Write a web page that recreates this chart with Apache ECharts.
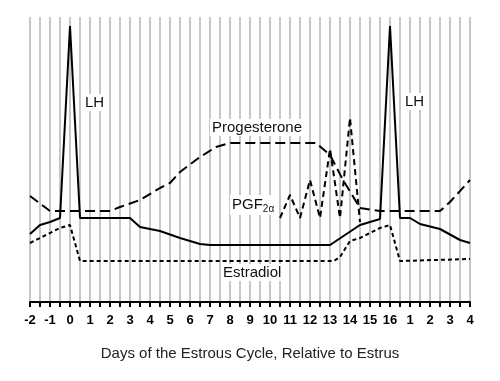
<!DOCTYPE html>
<html><head><meta charset="utf-8">
<script src="https://cdn.jsdelivr.net/npm/echarts@6/dist/echarts.min.js"></script>
<style>html,body{margin:0;padding:0;background:#fff}#c{width:500px;height:381px}</style>
</head><body><div id="c"></div>
<script>
// Day positions (day 17..20 on the axis are shown as 1..4 of the next cycle)
const lhDays = [-2,-1.5,-1,-0.5,0,0.5,3,3.5,4,4.5,5.5,6.5,7,13,14.5,15.5,16,16.5,17,17.5,18.5,19.5,20];
const lhVals = [68,77,80,84,276,84,84,75,73,71,64,58,57,57,77,83,276,84,84,78,73,62,59];
const progDays = [-2,-1,2,2.5,3.5,4.5,5,5.5,6.5,7.3,8,12.3,13,13.65,14.5,15.5,18.5,19,20];
const progVals = [106,91,91,95,102,114,119,130,145,155,159,159,147,122,94,91,91,100,122];
const e2Days = [-2,-0.5,0,0.5,13.2,13.5,14,14.5,15.5,16,16.5,20];
const e2Vals = [59,74,77,41,41,45,61,64,74,77,41,43];
const pgfDays = [10.5,11,11.5,12,12.5,13,13.5,14,14.5];
const pgfVals = [84,107,84,122,84,153,84,184,80];
const xTitle = 'Days of the Estrous Cycle, Relative to Estrus';
const cycleLength = 16;

const pairs = (xs, ys) => xs.map((x, i) => [x, ys[i]]);
const chart = echarts.init(document.getElementById('c'));
const F = '"Liberation Sans", Arial, sans-serif';
const base = {type:'line', showSymbol:false, symbol:'none', silent:true, animation:false, z:5};
const lbl = (text, left, top) => ({type:'text', left, top, z:3,
  style:{text, fontSize:15, fontFamily:F, fill:'#111', backgroundColor:'#fff', padding:[1,2]}});
chart.setOption({
  animation:false,
  grid:{left:30,right:30,top:17,bottom:79},
  xAxis:{
    type:'value', min:-2, max:20, interval:0.5,
    axisLine:{show:true,onZero:false,lineStyle:{color:'#000',width:2}},
    axisTick:{show:true,length:5,lineStyle:{color:'#000',width:2}},
    splitLine:{show:true,lineStyle:{color:'#c8c8c8',width:2}},
    axisLabel:{
      margin:12, color:'#000', fontWeight:'bold', fontSize:13, fontFamily:F,
      formatter:v => Number.isInteger(v) ? String(v <= cycleLength ? v : v - cycleLength) : ''
    },
    name:xTitle, nameLocation:'middle', nameGap:44,
    nameTextStyle:{color:'#222',fontSize:15,fontFamily:F}
  },
  yAxis:{type:'value',min:0,max:285,show:false,splitLine:{show:false}},
  series:[
    Object.assign({}, base, {name:'LH', data:pairs(lhDays,lhVals), lineStyle:{color:'#000',width:2,type:'solid'}}),
    Object.assign({}, base, {name:'Progesterone', data:pairs(progDays,progVals), lineStyle:{color:'#000',width:2,type:[10,5]}}),
    Object.assign({}, base, {name:'Estradiol', data:pairs(e2Days,e2Vals), lineStyle:{color:'#000',width:2,type:[4,3]}}),
    Object.assign({}, base, {name:'PGF2a', data:pairs(pgfDays,pgfVals), lineStyle:{color:'#000',width:2,type:[6,4]}})
  ],
  graphic:[
    lbl('LH', 83, 94),
    lbl('LH', 403, 93),
    lbl('Progesterone', 210, 119),
    lbl('Estradiol', 221, 264),
    {type:'text',left:230,top:195,z:3,style:{
      text:'{a|PGF}{b|2α}', backgroundColor:'#fff', padding:[1,2],
      rich:{a:{fontSize:15,fontFamily:F,fill:'#111'},b:{fontSize:10,fontFamily:F,fill:'#111',verticalAlign:'bottom',padding:[8,0,0,0]}}
    }}
  ]
});
</script></body></html>
